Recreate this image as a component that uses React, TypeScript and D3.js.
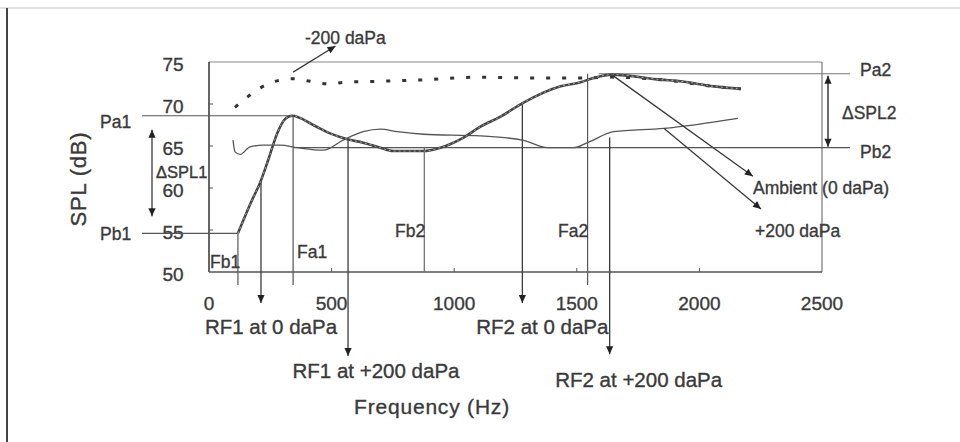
import React from 'react';
import * as d3 from 'd3';

// SPL vs frequency, three static pressures
const ambientFreq = [118, 176, 208, 241, 278, 310, 339, 425, 494, 564, 629, 699, 752, 874, 944, 1038, 1107, 1189, 1279, 1434, 1516, 1569, 1642, 1842, 1924, 2059, 2169];
const ambientSpl = [54.6, 58.6, 60.6, 63.3, 66.5, 68.2, 68.6, 67.5, 66.5, 65.8, 65.4, 64.8, 64.4, 64.4, 64.8, 66.0, 67.3, 68.5, 70.1, 72.1, 72.6, 73.1, 73.5, 72.9, 72.7, 72.1, 71.8];

const plusFreq = [98, 106, 127, 167, 221, 290, 360, 466, 547, 629, 699, 768, 874, 1107, 1279, 1381, 1487, 1544, 1650, 1855, 2157];
const plusSpl = [65.7, 64.3, 64.0, 64.9, 65.1, 65.1, 64.8, 64.5, 65.7, 66.7, 67.0, 66.7, 66.4, 66.2, 65.7, 64.8, 64.8, 65.4, 66.7, 67.1, 68.3];

const minusFreq = [106, 155, 208, 270, 343, 413, 486, 556, 690, 895, 1095, 1311, 1544, 1642, 1842, 2059, 2169];
const minusSpl = [69.6, 70.8, 71.9, 72.7, 73.0, 72.7, 72.4, 72.6, 72.7, 72.9, 73.2, 73.1, 73.1, 73.2, 72.9, 72.1, 71.8];

const xTicks = [0, 500, 1000, 1500, 2000, 2500];
const yTicks = [50, 55, 60, 65, 70, 75];

// reference levels (dB) and frequencies (Hz)
const levels = { Pa1: 68.6, Pb1: 54.6, Pa2: 73.6, Pb2: 64.8 };
const freqs = { Fb1: 118, Fa1: 343, Fb2: 878, Fa2: 1544 };

// RF arrows: frequency, where they leave the curve, where they end, label
const rfFreq = [212, 567, 1278, 1634];
const rfFrom = [60.7, 65.9, 70.1, 66.0];
const rfTo = [46.3, 40.0, 46.3, 40.2];
const rfLabels = ['RF1 at 0 daPa', 'RF1 at +200 daPa', 'RF2 at 0 daPa', 'RF2 at +200 daPa'];
const rfLabelDx = [10, 28, 20, 29];
const rfLabelDy = [31, 22, 31, 33];

const W = 960;
const H = 442;
const ink = '#3a3a3a';
const font = '"Liberation Sans", Arial, sans-serif';

const App = () => {
  const x = d3.scaleLinear().domain([0, 2500]).range([209, 822]);
  const y = d3.scaleLinear().domain([50, 75]).range([272, 62]);

  const line = d3.line<[number, number]>()
    .x(d => x(d[0]))
    .y(d => y(d[1]))
    .curve(d3.curveMonotoneX);

  const ambient = line(ambientFreq.map((f, i) => [f, ambientSpl[i]]));
  const plus = line(plusFreq.map((f, i) => [f, plusSpl[i]]));
  const minus = line(minusFreq.map((f, i) => [f, minusSpl[i]]));

  const head = (x1: number, y1: number, x2: number, y2: number, size = 8) => {
    const a = Math.atan2(y2 - y1, x2 - x1);
    const w = size * 0.45;
    const bx = x2 - size * Math.cos(a);
    const by = y2 - size * Math.sin(a);
    return `M${x2},${y2}L${bx + w * Math.sin(a)},${by - w * Math.cos(a)}L${bx - w * Math.sin(a)},${by + w * Math.cos(a)}Z`;
  };

  const arrow = (x1: number, y1: number, x2: number, y2: number, key: string, sw = 1.3) => (
    <g key={key}>
      <line x1={x1} y1={y1} x2={x2} y2={y2} stroke={ink} strokeWidth={sw} />
      <path d={head(x1, y1, x2, y2)} fill="#222" />
    </g>
  );

  const below = y(50) + 13;
  const txt = { fontFamily: font, fill: ink, stroke: ink, strokeWidth: 0.35 };
  const small = { ...txt, fontSize: 17.5 };

  return (
    <svg width={W} height={H} style={{ position: 'absolute', left: 0, top: 0, background: '#fff' }}>
      {/* page frame */}
      <line x1={0} x2={W} y1={8} y2={8} stroke="#e4e4e4" strokeWidth={2} />
      <line x1={7} x2={7} y1={8} y2={H} stroke="#444" strokeWidth={2} />

      {/* plot box */}
      <line x1={x(0)} x2={x(2500)} y1={y(75)} y2={y(75)} stroke="#888" strokeWidth={1} />
      <line x1={x(2500)} x2={x(2500)} y1={y(75)} y2={y(50)} stroke="#777" strokeWidth={1.2} />
      <line x1={x(0)} x2={x(2500)} y1={y(50)} y2={y(50)} stroke="#555" strokeWidth={1.5} />
      <line x1={x(0)} x2={x(0)} y1={y(75)} y2={y(50)} stroke="#555" strokeWidth={1.8} />

      {yTicks.slice(1, -1).map(t => (
        <line key={t} x1={x(0)} x2={x(0) + 4} y1={y(t)} y2={y(t)} stroke="#555" />
      ))}
      {xTicks.slice(1, -1).map(t => (
        <line key={t} x1={x(t)} x2={x(t)} y1={y(50)} y2={y(50) - 4} stroke="#555" />
      ))}

      {yTicks.map(t => (
        <text key={t} x={173} y={y(t) + 9} textAnchor="middle" fontSize={19} {...txt}>{t}</text>
      ))}
      {xTicks.map(t => (
        <text key={t} x={x(t)} y={310} textAnchor="middle" fontSize={19} {...txt}>{t}</text>
      ))}

      {/* reference levels */}
      <line x1={142} x2={x(freqs.Fa1)} y1={y(levels.Pa1)} y2={y(levels.Pa1)} stroke="#555" strokeWidth={1.2} />
      <line x1={142} x2={x(freqs.Fb1)} y1={y(levels.Pb1)} y2={y(levels.Pb1)} stroke="#555" strokeWidth={1.2} />
      <line x1={x(1589)} x2={850} y1={y(levels.Pa2)} y2={y(levels.Pa2)} stroke="#777" strokeWidth={1.2} />
      <line x1={x(freqs.Fa1)} x2={850} y1={y(levels.Pb2)} y2={y(levels.Pb2)} stroke="#555" strokeWidth={1.2} />

      {/* reference frequencies */}
      <line x1={x(freqs.Fb1)} x2={x(freqs.Fb1)} y1={y(levels.Pb1)} y2={below} stroke="#555" strokeWidth={1.2} />
      <line x1={x(freqs.Fa1)} x2={x(freqs.Fa1)} y1={y(levels.Pa1)} y2={below} stroke="#555" strokeWidth={1.2} />
      <line x1={x(freqs.Fb2)} x2={x(freqs.Fb2)} y1={y(levels.Pb2)} y2={y(50)} stroke="#666" strokeWidth={1.2} />
      <line x1={x(freqs.Fa2)} x2={x(freqs.Fa2)} y1={y(levels.Pa2)} y2={below} stroke="#555" strokeWidth={1.2} />

      {rfFreq.map((f, i) => arrow(x(f), y(rfFrom[i]), x(f), y(rfTo[i]), 'rf' + i, 1.3))}
      {rfFreq.map((f, i) => (
        <text key={'rl' + i} x={x(f) + rfLabelDx[i]} y={y(rfTo[i]) + rfLabelDy[i]} textAnchor="middle" fontSize={20.5} {...txt}>{rfLabels[i]}</text>
      ))}

      {/* curves */}
      <path d={minus ?? ''} fill="none" stroke="#333" strokeWidth={3} strokeDasharray="4,12" />
      <path d={plus ?? ''} fill="none" stroke="#555" strokeWidth={1.3} />
      <path d={ambient ?? ''} fill="none" stroke="#444" strokeWidth={2.6} />
      <path d={ambient ?? ''} fill="none" stroke="#bbb" strokeWidth={0.8} strokeDasharray="2,3" />

      {/* delta SPL arrows */}
      <line x1={152} x2={152} y1={y(levels.Pa1) + 14} y2={y(levels.Pb1) - 17} stroke={ink} strokeWidth={1.3} />
      <path d={head(152, 160, 152, y(levels.Pa1) + 14)} fill="#222" />
      <path d={head(152, 180, 152, y(levels.Pb1) - 17)} fill="#222" />
      <line x1={828} x2={828} y1={y(levels.Pa2) + 2} y2={y(levels.Pb2) - 1} stroke={ink} strokeWidth={1.5} />
      <path d={head(828, 110, 828, y(levels.Pa2) + 2)} fill="#222" />
      <path d={head(828, 110, 828, y(levels.Pb2) - 1)} fill="#222" />

      {/* curve callouts */}
      {arrow(x(343), y(73.8), x(516), y(76.9), 'm200')}
      {arrow(x(1642), y(73.5), x(2218), y(61.4), 'amb')}
      {arrow(x(1855), y(67.1), x(2251), y(57.5), 'p200')}

      <text x={305} y={44} {...small}>-200 daPa</text>
      <text x={753} y={194} {...small}>Ambient (0 daPa)</text>
      <text x={755} y={237} {...small}>+200 daPa</text>
      <text x={860} y={y(levels.Pa2) + 2} {...small}>Pa2</text>
      <text x={860} y={y(levels.Pb2) + 10} {...small}>Pb2</text>
      <text x={842} y={119} {...small}>ΔSPL2</text>
      <text x={156} y={178} fontSize={16.5} {...txt}>ΔSPL1</text>
      <text x={100} y={y(levels.Pa1) + 12} {...small}>Pa1</text>
      <text x={100} y={y(levels.Pb1) + 7} {...small}>Pb1</text>
      <text x={210} y={268} {...small}>Fb1</text>
      <text x={297} y={258} {...small}>Fa1</text>
      <text x={395} y={237} {...small}>Fb2</text>
      <text x={558} y={237} {...small}>Fa2</text>

      <text x={432} y={414} textAnchor="middle" fontSize={21} letterSpacing={0.8} {...txt}>Frequency (Hz)</text>
      <text transform="translate(86,179) rotate(-90)" textAnchor="middle" fontSize={22} letterSpacing={0.8} {...txt}>SPL (dB)</text>
    </svg>
  );
};

export default App;
